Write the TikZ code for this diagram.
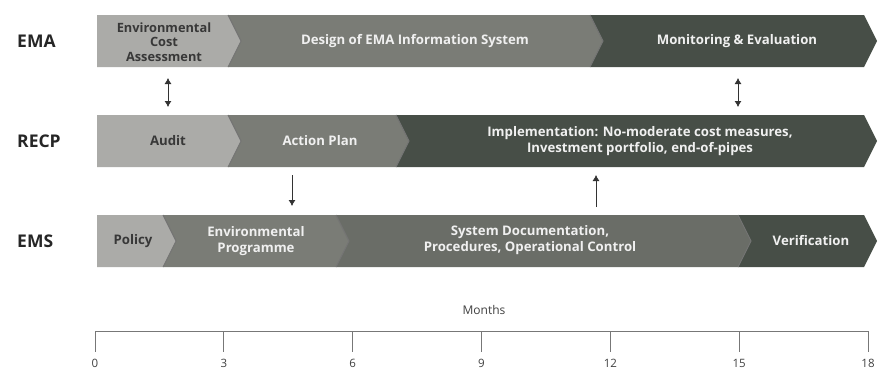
\documentclass[tikz,border=0pt]{standalone}
\usepackage{fontspec}
\setmainfont{Open Sans}
\usetikzlibrary{arrows.meta}

\definecolor{barlight}{HTML}{ABABA8}
\definecolor{barmid}{HTML}{7A7C76}
\definecolor{barmidd}{HTML}{6A6D67}
\definecolor{bardark}{HTML}{474E47}
\definecolor{axisgray}{HTML}{777777}

\tikzset{
  segtext/.style={font=\bfseries\fontsize{13.2}{16.5}\selectfont, text=white!94!black, align=center, inner sep=0pt},
  segtextdark/.style={segtext, text=black!78},
  rowlabel/.style={font=\bfseries\fontsize{17.5}{19}\selectfont, text=black!85, anchor=west, inner sep=0pt},
  edge/.style={line width=0.9pt, black!55},
  oneway/.style={line width=0.8pt, black!80, -{Latex[length=6pt,width=7pt]}},
  twoway/.style={line width=0.8pt, black!80, {Latex[length=6pt,width=7pt]}-{Latex[length=6pt,width=7pt]}},
}

\begin{document}
\begin{tikzpicture}[x=1pt,y=-1pt]
    \useasboundingbox (0,0) rectangle (879,373);

    % Row labels
    \node[rowlabel] (ema)  at (17,41)  {EMA};
    \node[rowlabel] (recp) at (17,141) {RECP};
    \node[rowlabel] (ems)  at (17,241) {EMS};

    % EMA bar
    \fill[barlight] (97,15) -- (228,15) -- (241,41) -- (228,67) -- (97,67) -- cycle;
    \fill[barmid] (228,15) -- (590,15) -- (603,41) -- (590,67) -- (228,67) -- (241,41) -- cycle;
    \fill[bardark] (590,15) -- (864,15) -- (877,41) -- (864,67) -- (590,67) -- (603,41) -- cycle;
    \draw[edge] (228,15) -- (241,41) -- (228,67);
    \draw[edge] (590,15) -- (603,41) -- (590,67);

    % RECP bar
    \fill[barlight] (97,115) -- (228,115) -- (241,141) -- (228,167) -- (97,167) -- cycle;
    \fill[barmid] (228,115) -- (396,115) -- (409,141) -- (396,167) -- (228,167) -- (241,141) -- cycle;
    \fill[bardark] (396,115) -- (864,115) -- (877,141) -- (864,167) -- (396,167) -- (409,141) -- cycle;
    \draw[edge] (228,115) -- (241,141) -- (228,167);
    \draw[edge] (396,115) -- (409,141) -- (396,167);

    % EMS bar
    \fill[barlight] (97,215) -- (163,215) -- (176,241) -- (163,267) -- (97,267) -- cycle;
    \fill[barmid] (163,215) -- (336,215) -- (349,241) -- (336,267) -- (163,267) -- (176,241) -- cycle;
    \fill[barmidd] (336,215) -- (738,215) -- (751,241) -- (738,267) -- (336,267) -- (349,241) -- cycle;
    \fill[bardark] (738,215) -- (864,215) -- (877,241) -- (864,267) -- (738,267) -- (751,241) -- cycle;
    \draw[edge] (163,215) -- (176,241) -- (163,267);
    \draw[edge] (336,215) -- (349,241) -- (336,267);
    \draw[edge] (738,215) -- (751,241) -- (738,267);

    % Phase texts
    \node[segtextdark, font=\bfseries\fontsize{12.8}{14.5}\selectfont] (ema-cost) at (164,42) {Environmental\\Cost\\Assessment};
    \node[segtext]     (ema-design)  at (415,41)  {Design of EMA Information System};
    \node[segtext]     (ema-monitor) at (737,41)  {Monitoring \& Evaluation};

    \node[segtextdark] (recp-audit)  at (168,141) {Audit};
    \node[segtext]     (recp-plan)   at (320,141) {Action Plan};
    \node[segtext]     (recp-impl)   at (640,141) {Implementation: No-moderate cost measures,\\Investment portfolio, end-of-pipes};

    \node[segtextdark] (ems-policy)  at (133,241) {Policy};
    \node[segtext]     (ems-prog)    at (256,241) {Environmental\\Programme};
    \node[segtext]     (ems-doc)     at (530,240) {System Documentation,\\Procedures, Operational Control};
    \node[segtext]     (ems-verif)   at (811,241) {Verification};

    % Links between rows
    \coordinate (cost-low)  at (168,78);
    \coordinate (audit-up)  at (168,107);
    \coordinate (mon-low)   at (738,78);
    \coordinate (impl-up)   at (738,107);
    \coordinate (plan-low)  at (292,175);
    \coordinate (prog-up)   at (292,206);
    \coordinate (doc-up)    at (596,207);
    \coordinate (impl-low)  at (596,175);

    \draw[twoway] (cost-low) -- (audit-up);
    \draw[twoway] (mon-low) -- (impl-up);
    \draw[oneway] (plan-low) -- (prog-up);
    \draw[oneway] (doc-up) -- (impl-low);

    % Time axis
    \node[font=\fontsize{12}{14}\selectfont, text=black!75] (months) at (484,310) {Months};
    \draw[axisgray, line width=0.8pt] (95,331) coordinate (axis-start) -- (868,331) coordinate (axis-end);
    \foreach \m in {0,3,...,18} {
        \draw[axisgray, line width=0.8pt] ({95+42.944*\m},331) -- ({95+42.944*\m},352);
        \node[font=\fontsize{11.5}{13}\selectfont, text=black!75] (tick\m) at ({95+42.944*\m},363) {\m};
    }
\end{tikzpicture}
\end{document}
